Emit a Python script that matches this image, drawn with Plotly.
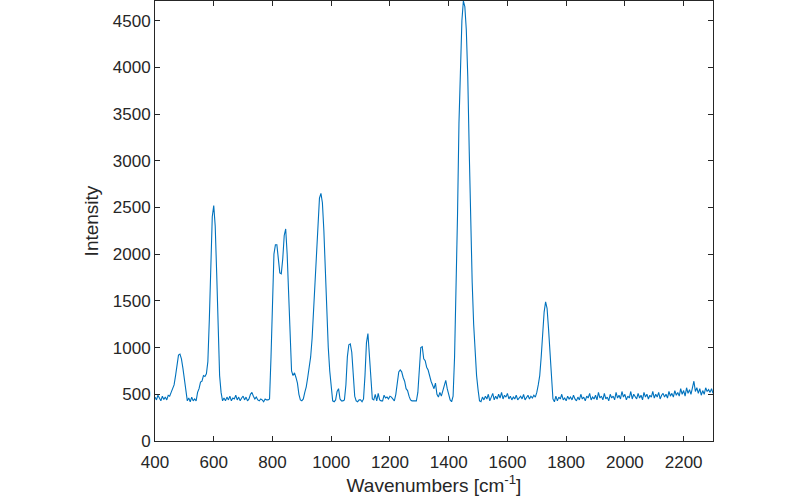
import plotly.graph_objects as go

wavenumbers = [
    400, 405, 410, 415, 420, 425, 430, 435, 440, 445, 450, 455, 460, 465, 470, 475, 480, 485, 490, 495,
    500, 505, 510, 515, 520, 525, 530, 535, 540, 545, 550, 555, 560, 565, 570, 575, 580, 585, 590, 595,
    600, 605, 610, 615, 620, 625, 630, 635, 640, 645, 650, 655, 660, 665, 670, 675, 680, 685, 690, 695,
    700, 705, 710, 715, 720, 725, 730, 735, 740, 745, 750, 755, 760, 765, 770, 775, 780, 785, 790, 795,
    800, 805, 810, 815, 820, 825, 830, 835, 840, 845, 850, 855, 860, 865, 870, 875, 880, 885, 890, 895,
    900, 905, 910, 915, 920, 925, 930, 935, 940, 945, 950, 955, 960, 965, 970, 975, 980, 985, 990, 995,
    1000, 1005, 1010, 1015, 1020, 1025, 1030, 1035, 1040, 1045, 1050, 1055, 1060, 1065, 1070, 1075, 1080, 1085, 1090, 1095,
    1100, 1105, 1110, 1115, 1120, 1125, 1130, 1135, 1140, 1145, 1150, 1155, 1160, 1165, 1170, 1175, 1180, 1185, 1190, 1195,
    1200, 1205, 1210, 1215, 1220, 1225, 1230, 1235, 1240, 1245, 1250, 1255, 1260, 1265, 1270, 1275, 1280, 1285, 1290, 1295,
    1300, 1305, 1310, 1315, 1320, 1325, 1330, 1335, 1340, 1345, 1350, 1355, 1360, 1365, 1370, 1375, 1380, 1385, 1390, 1395,
    1400, 1405, 1410, 1415, 1420, 1425, 1430, 1435, 1440, 1445, 1450, 1455, 1460, 1465, 1470, 1475, 1480, 1485, 1490, 1495,
    1500, 1505, 1510, 1515, 1520, 1525, 1530, 1535, 1540, 1545, 1550, 1555, 1560, 1565, 1570, 1575, 1580, 1585, 1590, 1595,
    1600, 1605, 1610, 1615, 1620, 1625, 1630, 1635, 1640, 1645, 1650, 1655, 1660, 1665, 1670, 1675, 1680, 1685, 1690, 1695,
    1700, 1705, 1710, 1715, 1720, 1725, 1730, 1735, 1740, 1745, 1750, 1755, 1760, 1765, 1770, 1775, 1780, 1785, 1790, 1795,
    1800, 1805, 1810, 1815, 1820, 1825, 1830, 1835, 1840, 1845, 1850, 1855, 1860, 1865, 1870, 1875, 1880, 1885, 1890, 1895,
    1900, 1905, 1910, 1915, 1920, 1925, 1930, 1935, 1940, 1945, 1950, 1955, 1960, 1965, 1970, 1975, 1980, 1985, 1990, 1995,
    2000, 2005, 2010, 2015, 2020, 2025, 2030, 2035, 2040, 2045, 2050, 2055, 2060, 2065, 2070, 2075, 2080, 2085, 2090, 2095,
    2100, 2105, 2110, 2115, 2120, 2125, 2130, 2135, 2140, 2145, 2150, 2155, 2160, 2165, 2170, 2175, 2180, 2185, 2190, 2195,
    2200, 2205, 2210, 2215, 2220, 2225, 2230, 2235, 2240, 2245, 2250, 2255, 2260, 2265, 2270, 2275, 2280, 2285, 2290, 2295,
    2300,
]

intensity = [
    470, 440, 490, 450, 430, 480, 445, 470, 440, 490, 480, 520, 560, 600, 700, 820, 920, 930, 880, 780,
    650, 530, 430, 460, 420, 470, 430, 450, 430, 520, 560, 630, 640, 700, 690, 720, 850, 1300, 1900, 2400,
    2520, 2300, 1800, 1300, 700, 520, 430, 460, 430, 470, 440, 480, 430, 460, 450, 490, 440, 470, 430, 460,
    480, 440, 470, 430, 450, 500, 520, 480, 450, 470, 440, 430, 450, 440, 420, 450, 440, 440, 450, 900,
    1600, 2000, 2100, 2100, 1950, 1800, 1790, 1950, 2200, 2270, 2000, 1500, 1000, 750, 700, 730, 680, 620, 500, 440,
    430, 450, 520, 580, 680, 800, 900, 1100, 1400, 1750, 2100, 2400, 2600, 2650, 2550, 2250, 1800, 1400, 1000, 750,
    550, 430, 420, 440, 530, 560, 450, 430, 430, 440, 600, 900, 1030, 1040, 950, 700, 480, 430, 420, 440,
    440, 420, 450, 700, 1050, 1150, 900, 600, 450, 440, 500, 430, 510, 440, 430, 430, 490, 460, 470, 450,
    480, 470, 450, 430, 500, 650, 740, 760, 740, 680, 640, 560, 540, 480, 440, 430, 430, 430, 430, 520,
    800, 1000, 1010, 880, 860, 790, 760, 680, 640, 600, 560, 620, 500, 470, 520, 480, 530, 600, 650, 560,
    500, 440, 420, 480, 900, 1500, 2400, 3400, 4100, 4500, 4710, 4650, 4400, 3900, 3100, 2300, 1700, 1250, 950, 700,
    550, 430, 420, 470, 440, 480, 450, 500, 430, 470, 510, 440, 480, 450, 500, 460, 520, 450, 490, 470,
    510, 450, 480, 440, 470, 450, 490, 440, 460, 480, 450, 500, 440, 470, 490, 450, 480, 460, 490, 470,
    520, 600, 700, 900, 1150, 1380, 1490, 1420, 1200, 900, 650, 450, 420, 480, 430, 470, 450, 500, 440, 460,
    430, 480, 450, 470, 440, 490, 450, 430, 470, 440, 500, 450, 470, 430, 480, 460, 510, 440, 470, 450,
    490, 440, 520, 460, 480, 440, 510, 450, 470, 430, 500, 460, 480, 440, 520, 460, 490, 450, 530, 470,
    500, 440, 480, 460, 530, 450, 500, 470, 450, 510, 460, 490, 440, 520, 470, 500, 450, 490, 470, 530,
    460, 500, 470, 520, 450, 490, 510, 470, 500, 460, 530, 480, 510, 470, 540, 490, 520, 480, 560, 500,
    540, 480, 570, 510, 550, 500, 580, 640, 530, 570, 510, 560, 490, 540, 500, 570, 530, 550, 520, 560,
    510,
]

x_ticks = [400, 600, 800, 1000, 1200, 1400, 1600, 1800, 2000, 2200]
y_ticks = [0, 500, 1000, 1500, 2000, 2500, 3000, 3500, 4000, 4500]

axis_color = "#262626"
font_family = "Liberation Sans, Arial, Helvetica, sans-serif"

fig = go.Figure()
fig.add_trace(go.Scatter(
    x=wavenumbers, y=intensity, mode="lines",
    line=dict(color="#0072BD", width=1.1),
    showlegend=False,
))

common_axis = dict(
    showgrid=False, zeroline=False,
    showline=True, linecolor=axis_color, linewidth=1,
    mirror="ticks", ticks="inside", ticklen=5, tickwidth=1, tickcolor=axis_color,
    tickfont=dict(family=font_family, size=17, color=axis_color),
)

fig.update_layout(
    width=800, height=499,
    margin=dict(l=155, r=87, t=1, b=58),
    paper_bgcolor="white", plot_bgcolor="white",
    font=dict(family=font_family, color=axis_color),
    xaxis=dict(
        range=[400, 2300], tickvals=x_ticks, ticklabelstandoff=6,
        title=dict(text="Wavenumbers [cm<sup>-1</sup>]", font=dict(family=font_family, size=19, color=axis_color), standoff=6),
        **common_axis,
    ),
    yaxis=dict(
        range=[0, 4710], tickvals=y_ticks,
        title=dict(text="Intensity", font=dict(family=font_family, size=19, color=axis_color), standoff=9),
        **common_axis,
    ),
)

fig.write_html("out.html")
